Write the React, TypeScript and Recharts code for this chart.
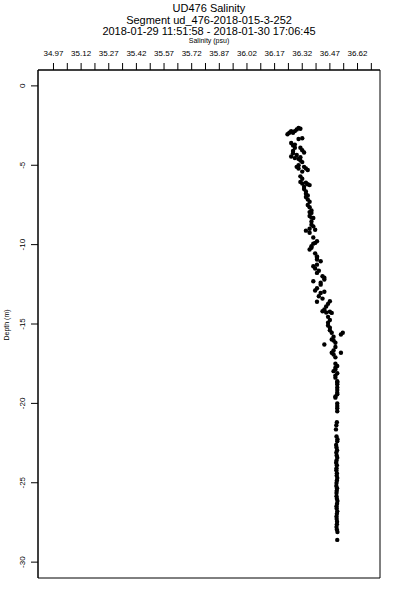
import React from 'react';
import {
  ScatterChart,
  Scatter,
  XAxis,
  YAxis,
  ReferenceArea,
} from 'recharts';

const titleLines = [
  'UD476 Salinity',
  'Segment ud_476-2018-015-3-252',
  '2018-01-29 11:51:58 - 2018-01-30 17:06:45',
];

const majorTicks = [34.97, 35.12, 35.27, 35.42, 35.57, 35.72, 35.87, 36.02, 36.17, 36.32, 36.47, 36.62];
const minorTicks = [35.045, 35.195, 35.345, 35.495, 35.645, 35.795, 35.945, 36.095, 36.245, 36.395, 36.545, 36.695];
const depthTicks = [0, -5, -10, -15, -20, -25, -30];

const xDomain = [34.886, 36.742];
const yDomain = [-31, 1];

// salinity (psu) and depth (m) top to bottom
const salinity = [
  36.24, 36.25, 36.26, 36.27, 36.29, 36.30, 36.31, 36.32, 36.26, 36.27,
  36.28, 36.27, 36.27, 36.31, 36.32, 36.33, 36.26, 36.28, 36.30, 36.31,
  36.32, 36.29, 36.30, 36.33, 36.34, 36.35, 36.31, 36.31, 36.32, 36.34,
  36.35, 36.36, 36.33, 36.34, 36.34, 36.34, 36.35, 36.36, 36.36, 36.37,
  36.37, 36.36, 36.37, 36.38, 36.34, 36.38, 36.39, 36.36, 36.37, 36.39,
  36.40, 36.36, 36.38, 36.40, 36.40, 36.40, 36.38, 36.40, 36.42, 36.40,
  36.43, 36.44, 36.44, 36.38, 36.42, 36.39, 36.44, 36.41, 36.40, 36.47,
  36.46, 36.44, 36.47, 36.48, 36.43, 36.45, 36.46, 36.47, 36.48, 36.46,
  36.53, 36.54, 36.48, 36.44, 36.50, 36.49, 36.48, 36.53, 36.49, 36.49,
  36.50, 36.51, 36.49, 36.50, 36.50, 36.51, 36.51, 36.51, 36.51, 36.50,
  36.51, 36.50, 36.51, 36.51, 36.51, 36.508, 36.505, 36.503, 36.506, 36.511,
  36.510, 36.504, 36.506, 36.509, 36.505, 36.507, 36.510, 36.506, 36.504, 36.508,
  36.506, 36.505, 36.507, 36.510, 36.508, 36.506, 36.505, 36.509, 36.507, 36.506,
  36.508, 36.511, 36.509, 36.506, 36.507, 36.510, 36.508, 36.506, 36.507, 36.509,
  36.508, 36.506, 36.508, 36.511, 36.510,
  36.28, 36.30, 36.28, 36.29, 36.31, 36.30, 36.32, 36.32, 36.33, 36.35,
  36.35, 36.36, 36.37, 36.37, 36.36, 36.38, 36.37, 36.39, 36.39, 36.41,
  36.42, 36.40, 36.42, 36.43, 36.45, 36.46, 36.47, 36.47, 36.49, 36.50,
  36.50, 36.50, 36.51, 36.50, 36.51, 36.51, 36.51, 36.508, 36.506,
];

const depth = [
  -3.05, -2.95, -2.85, -2.95, -2.75, -2.65, -2.70, -3.30, -3.60, -3.75,
  -3.90, -4.10, -4.25, -3.90, -4.05, -4.20, -4.45, -4.55, -4.60, -4.70,
  -4.80, -5.10, -5.20, -5.10, -5.20, -5.30, -5.70, -6.05, -6.15, -6.10,
  -6.20, -6.25, -6.50, -6.65, -6.80, -7.00, -7.15, -7.30, -7.65, -7.85,
  -8.00, -8.20, -8.30, -8.32, -9.12, -8.85, -9.06, -9.00, -10.10, -9.89,
  -9.79, -10.31, -9.94, -10.74, -10.94, -10.82, -11.36, -11.26, -11.05, -11.78,
  -11.99, -12.20, -12.08, -12.31, -12.52, -12.89, -12.97, -13.25, -13.60, -13.57,
  -13.73, -14.09, -14.23, -14.30, -14.20, -14.28, -14.92, -15.24, -15.55, -15.09,
  -15.66, -15.55, -15.97, -16.29, -16.18, -16.04, -16.81, -16.81, -16.67, -16.92,
  -17.75, -17.65, -17.97, -17.86, -18.38, -18.60, -18.80, -18.68, -19.33, -19.64,
  -19.43, -19.56, -20.17, -20.31, -20.50, -21.19, -21.38, -21.64, -22.08, -22.26,
  -22.39, -22.62, -22.78, -22.95, -23.10, -23.28, -23.42, -23.60, -23.74, -23.90,
  -24.08, -24.22, -24.55, -24.70, -24.86, -25.02, -25.20, -25.35, -25.50, -25.85,
  -26.00, -26.15, -26.32, -26.48, -26.62, -26.80, -26.96, -27.12, -27.28, -27.45,
  -27.62, -27.78, -27.95, -28.10, -28.60,
  -2.85, -3.35, -3.70, -4.35, -4.50, -5.00, -5.40, -5.85, -6.35, -6.90,
  -7.50, -7.95, -8.55, -8.75, -9.25, -9.55, -10.20, -10.55, -11.50, -11.65,
  -12.40, -12.75, -13.05, -13.40, -13.90, -14.55, -14.75, -15.40, -15.80, -16.45,
  -17.10, -17.50, -18.10, -18.25, -19.00, -19.15, -20.00, -24.40, -25.65,
];

const points = salinity.map((s, i) => ({ sal: s, depth: depth[i] }));
const xTicks = [...majorTicks, ...minorTicks].sort((a, b) => a - b);

const FONT = '"Liberation Sans", Arial, sans-serif';

const XTick = (props: any) => {
  const { x, y, payload } = props;
  const isMajor = majorTicks.some(t => Math.abs(t - payload.value) < 1e-6);
  if (!isMajor) return <g />;
  return (
    <text x={x} y={y} textAnchor="middle" fontSize={8} fontFamily={FONT} fill="#000">
      {payload.value.toFixed(2)}
    </text>
  );
};

const YTick = (props: any) => {
  const { x, y, payload } = props;
  return (
    <text
      x={x}
      y={y}
      transform={`rotate(-90, ${x}, ${y})`}
      textAnchor="middle"
      fontSize={8}
      fontFamily={FONT}
      fill="#000"
    >
      {payload.value}
    </text>
  );
};

const Dot = (props: any) => <circle cx={props.cx} cy={props.cy} r={2.2} fill="#000" />;

export default function App() {
  return (
    <div style={{ position: 'absolute', left: 0, top: 0, width: 400, height: 600, background: '#fff', fontFamily: FONT }}>
      {titleLines.map((line, i) => (
        <div
          key={i}
          style={{
            position: 'absolute',
            left: 0,
            width: 418,
            top: 2 + i * 11.7,
            textAlign: 'center',
            fontSize: 11,
            lineHeight: '12px',
            color: '#000',
          }}
        >
          {line}
        </div>
      ))}
      <div style={{ position: 'absolute', left: 0, width: 418, top: 36.5, textAlign: 'center', fontSize: 7, lineHeight: '8px' }}>
        Salinity (psu)
      </div>
      <div
        style={{
          position: 'absolute',
          left: 6,
          top: 325,
          transform: 'translate(-50%, -50%) rotate(-90deg)',
          fontSize: 7,
          whiteSpace: 'nowrap',
        }}
      >
        Depth (m)
      </div>
      <ScatterChart width={400} height={600} margin={{ top: 40, right: 20, bottom: 22, left: 0 }}>
        <XAxis
          type="number"
          dataKey="sal"
          orientation="top"
          height={30}
          domain={xDomain}
          ticks={xTicks}
          interval={0}
          allowDataOverflow
          tickSize={7}
          tickMargin={7}
          tick={<XTick />}
          stroke="#000"
          tickLine={{ stroke: '#000' }}
        />
        <YAxis
          type="number"
          dataKey="depth"
          width={38}
          domain={yDomain}
          ticks={depthTicks}
          interval={0}
          allowDataOverflow
          tickSize={7}
          tickMargin={6}
          tick={<YTick />}
          stroke="#000"
          tickLine={{ stroke: '#000' }}
        />
        <ReferenceArea
          x1={xDomain[0]}
          x2={xDomain[1]}
          y1={yDomain[0]}
          y2={yDomain[1]}
          fill="none"
          stroke="#000"
          strokeWidth={1}
          ifOverflow="visible"
        />
        <Scatter data={points} shape={<Dot />} isAnimationActive={false} />
      </ScatterChart>
    </div>
  );
}
